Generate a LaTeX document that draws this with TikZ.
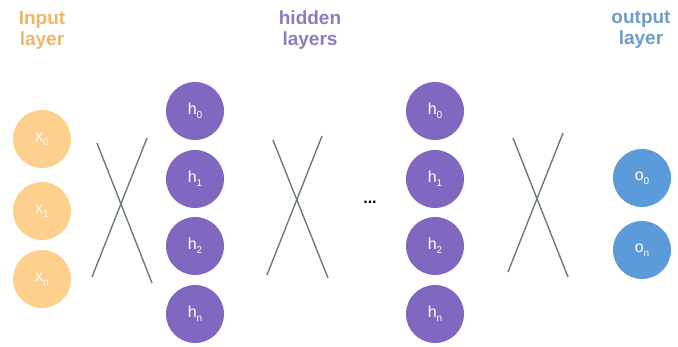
\documentclass[tikz,border=0pt]{standalone}
\usepackage{fontspec}
\setmainfont{Liberation Sans}
\newcommand{\sbs}[1]{\raisebox{-0.45ex}{\fontsize{10}{10}\selectfont #1}}
\begin{document}
\begin{tikzpicture}[x=1pt,y=-1pt,
  ttl/.style={font=\fontsize{19}{21}\selectfont\bfseries, align=center},
  neuron/.style={circle, minimum size=58pt, inner sep=0pt, text=white,
                 font=\fontsize{16}{18}\selectfont},
  innode/.style={neuron, fill=inorange},
  hidnode/.style={neuron, fill=hidpurple},
  outnode/.style={neuron, fill=outblue},
  wire/.style={draw=wiregray, line width=1.4pt}
]
\definecolor{inorange}{HTML}{FDD08E}
\definecolor{intext}{HTML}{F2B565}
\definecolor{hidpurple}{HTML}{8068C0}
\definecolor{hidtext}{HTML}{8B7DC0}
\definecolor{outblue}{HTML}{5B9BD9}
\definecolor{outtext}{HTML}{6C9DCB}
\definecolor{wiregray}{HTML}{6E7B7B}
\useasboundingbox (0,0) rectangle (678,347);
\fill[white] (0,0) rectangle (678,347);

% titles
\node[ttl, text=intext] (tin) at (42,30) {Input\\layer};
\node[ttl, text=hidtext] (thid) at (310,30) {hidden\\layers};
\node[ttl, text=outtext] (tout) at (641,30) {output\\layer};

% input layer
\node[innode] (x0) at (42,139) {x\sbs{0}};
\node[innode] (x1) at (42,211) {x\sbs{1}};
\node[innode] (xn) at (42,279) {x\sbs{n}};

% hidden layer 1
\node[hidnode] (a0) at (195,111) {h\sbs{0}};
\node[hidnode] (a1) at (195,179) {h\sbs{1}};
\node[hidnode] (a2) at (195,246) {h\sbs{2}};
\node[hidnode] (an) at (195,314) {h\sbs{n}};

% hidden layer 2
\node[hidnode] (b0) at (435,111) {h\sbs{0}};
\node[hidnode] (b1) at (435,179) {h\sbs{1}};
\node[hidnode] (b2) at (435,246) {h\sbs{2}};
\node[hidnode] (bn) at (435,314) {h\sbs{n}};

% output layer
\node[outnode] (o0) at (642,178) {o\sbs{0}};
\node[outnode] (on) at (642,250) {o\sbs{n}};

% dots
\node[font=\fontsize{16}{18}\selectfont\bfseries] (dots) at (370,202) {...};

% crossing connectors
\coordinate (c1a) at (97,143);  \coordinate (c1b) at (152,283);
\coordinate (c1c) at (147,138); \coordinate (c1d) at (92,277);
\draw[wire] (c1a) -- (c1b);
\draw[wire] (c1c) -- (c1d);

\coordinate (c2a) at (273,140); \coordinate (c2b) at (328,278);
\coordinate (c2c) at (322,136); \coordinate (c2d) at (267,275);
\draw[wire] (c2a) -- (c2b);
\draw[wire] (c2c) -- (c2d);

\coordinate (c3a) at (513,138); \coordinate (c3b) at (568,277);
\coordinate (c3c) at (563,133); \coordinate (c3d) at (508,272);
\draw[wire] (c3a) -- (c3b);
\draw[wire] (c3c) -- (c3d);
\end{tikzpicture}
\end{document}
